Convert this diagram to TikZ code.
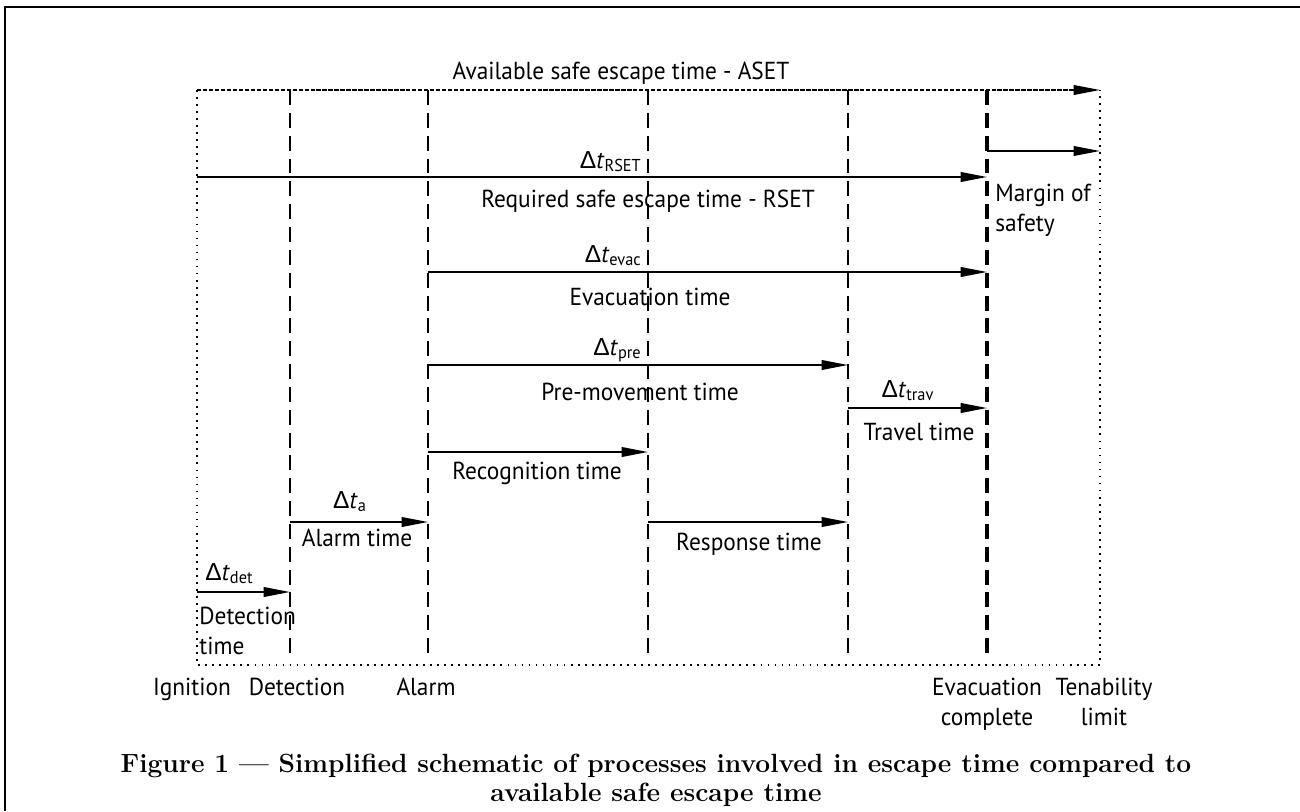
\documentclass[tikz,border=0pt]{standalone}
\usepackage{fontspec}
\newfontfamily\dinfont{PT Sans}[FakeStretch=0.95]
\newfontfamily\deltafont{Liberation Sans}
\usetikzlibrary{arrows.meta}

\newcommand{\dtime}[1]{{\deltafont Δ}\textit{t}\textsubscript{#1}}

\tikzset{
  tline/.style={line width=0.9pt},
  tarrow/.style={tline, -{Triangle[length=15pt,width=5.5pt]}},
  vdash/.style={line width=0.9pt, dash pattern=on 8.5pt off 4.5pt},
  fdot/.style={line width=1pt, dash pattern=on 1pt off 3pt},
  lbl/.style={font=\dinfont\fontsize{14}{17}\selectfont, inner sep=0pt}
}

\begin{document}
\begin{tikzpicture}[x=0.02cm, y=-0.02cm, every node/.style={lbl}]
\useasboundingbox (0,0) rectangle (1300,811);
% page frame
\draw[line width=1.5pt] (5,811) -- (5,7) -- (1300,7);

% time marks and rows
\foreach \n/\x in {ign/197,det/290,alm/428,rsp/648,trv/848,evc/987,ten/1100}
  \coordinate (\n) at (\x,90);
\foreach \n/\y in {mos/151,rset/177,evac/272,pre/365,trav/408,recog/452,alarm/522,det/592}
  \coordinate (r\n) at (0,\y);
\coordinate (bot) at (0,657);
\coordinate (base) at (0,665);

% dotted frame of the time axis
\draw[fdot] (ign) -- (ign |- base) -- (ten |- base) -- (ten);

% dashed event lines
\foreach \n in {det,alm,rsp,trv}
  \draw[vdash] (\n) -- (\n |- bot);
\draw[vdash, line width=1.9pt] (evc) -- (evc |- bot);

% time spans
\draw[tarrow, dash pattern=on 2.5pt off 0.9pt] (ign) -- (ten);
\foreach \a/\b/\r in {evc/ten/mos, ign/evc/rset, alm/evc/evac, alm/trv/pre,
    trv/evc/trav, alm/rsp/recog, det/alm/alarm, rsp/trv/alarm, ign/det/det}
  \draw[tarrow] (\a |- r\r) -- (\b |- r\r);

% span labels (two-line nodes sit on their last baseline)
\node[anchor=base] (tAset) at (621,80) {Available safe escape time - ASET};
\node[anchor=base east] (dRset) at (642,168) {\dtime{RSET}};
\node[anchor=base] (tRset) at (648,207) {Required safe escape time - RSET};
\node[anchor=base east] (dEvac) at (642,262) {\dtime{evac}};
\node[anchor=base] (tEvac) at (650,305) {Evacuation time};
\node[anchor=base east] (dPre) at (642,355) {\dtime{pre}};
\node[anchor=base] (tPre) at (640,400) {Pre-movement time};
\node[anchor=base] (dTrav) at (908,397) {\dtime{trav}};
\node[anchor=base] (tTrav) at (919,440) {Travel time};
\node[anchor=base west] (tRecog) at (452,479) {Recognition time};
\node[anchor=base] (dA) at (350,508) {\dtime{a}};
\node[anchor=base] (tAlarm) at (357,546) {Alarm time};
\node[anchor=base east] (tResp) at (822,550) {Response time};
\node[anchor=base west] (dDet) at (205,580) {\dtime{det}};
\node[anchor=base west, align=left] (tDet) at (199,654) {Detection\\time};
\node[anchor=base west, align=left] (tMos) at (995,231) {Margin of\\safety};

% event labels
\node[anchor=base] (lIgn) at (192,695) {Ignition};
\node[anchor=base] (lDet) at (297,695) {Detection};
\node[anchor=base] (lAlm) at (426,695) {Alarm};
\node[anchor=base, align=center] (lEvc) at (987,725) {Evacuation\\complete};
\node[anchor=base, align=center] (lTen) at (1104,725) {Tenability\\limit};

% caption
\node[anchor=base, align=center, font=\bfseries\fontsize{15}{16.4}\selectfont] (cap) at (656,801)
  {Figure 1 --- Simplified schematic of processes involved in escape time compared to\\available safe escape time};
\end{tikzpicture}
\end{document}
